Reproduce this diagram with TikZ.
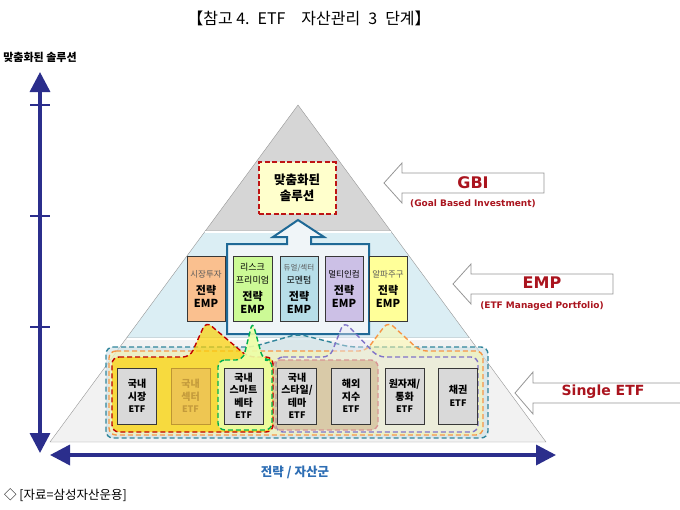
\documentclass[tikz,border=0pt]{standalone}
\usepackage{fontspec}
\setmainfont{Noto Sans CJK KR}
\newfontfamily\verdfont{DejaVu Sans}
\usepackage{xcolor}
\usepackage{tikz}
\usetikzlibrary{positioning, calc, arrows.meta}

\definecolor{axisblue}{RGB}{43,46,140}
\definecolor{labelblue}{RGB}{46,110,180}
\definecolor{topgray}{RGB}{214,214,214}
\definecolor{midcyan}{RGB}{219,238,244}
\definecolor{lowgray}{RGB}{242,242,242}
\definecolor{pyrline}{RGB}{150,150,150}
\definecolor{darkred}{RGB}{170,20,30}
\definecolor{gbifill}{RGB}{255,255,204}
\definecolor{gbidash}{RGB}{190,20,20}
\definecolor{contblue}{RGB}{31,105,150}
\definecolor{contfill}{RGB}{240,245,248}
\definecolor{boxline}{RGB}{55,55,55}
\definecolor{subgray}{RGB}{90,90,90}
\definecolor{emporange}{RGB}{250,192,143}
\definecolor{empgreen}{RGB}{204,250,150}
\definecolor{empteal}{RGB}{183,222,232}
\definecolor{emplav}{RGB}{204,192,230}
\definecolor{empyellow}{RGB}{255,255,153}
\definecolor{etfgray}{RGB}{217,217,217}
\definecolor{etfgold}{RGB}{238,198,82}
\definecolor{goldline}{RGB}{190,150,50}
\definecolor{goldtext}{RGB}{196,155,60}
\definecolor{grpteal}{RGB}{49,133,155}
\definecolor{grporange}{RGB}{247,150,70}
\definecolor{grpred}{RGB}{192,0,0}
\definecolor{grpgreen}{RGB}{0,176,80}
\definecolor{grprose}{RGB}{217,149,148}
\definecolor{grpviolet}{RGB}{128,115,200}
\definecolor{rosefill}{RGB}{205,180,135}
\definecolor{arrowgray}{RGB}{150,150,150}

\begin{document}
\begin{tikzpicture}[x=1pt, y=-1pt,
    every node/.style={inner sep=0pt},
    embox/.style={draw=boxline, line width=0.9pt, minimum width=38pt, minimum height=65pt,
      align=center, font=\bfseries\fontsize{11}{13}\selectfont},
    etfbox/.style={draw=boxline, fill=etfgray, line width=0.9pt, minimum width=39pt,
      minimum height=56pt, align=center, font=\bfseries\fontsize{10}{12.5}\selectfont},
    grp/.style={dash pattern=on 5pt off 3pt, line width=1.4pt, rounded corners=7pt},
    hollow/.style={draw=arrowgray, fill=white, line width=0.8pt},
    axis/.style={draw=axisblue, line width=3.5pt,
      {Triangle[length=20pt,width=20pt]}-{Triangle[length=20pt,width=20pt]}},
    tick/.style={draw=axisblue, line width=2.5pt},
    tag/.style={font=\verdfont\bfseries, text=darkred}]
  \useasboundingbox (0,0) rectangle (680,509);

  % title and axes
  \node[font=\fontsize{16}{18}\selectfont] (title) at (309,18)
    {【참고 4.\enspace ETF\enspace\enspace 자산관리\enspace 3\enspace 단계】};
  \node[font=\bfseries\fontsize{11}{13}\selectfont] (ylabel) at (40,57) {맞춤화된 솔루션};
  \coordinate (vtop) at (40,72);
  \coordinate (vbot) at (40,453);
  \coordinate (hleft) at (50,455);
  \coordinate (hright) at (556,455);
  \draw[axis] (vtop) -- (vbot);
  \draw[axis] (hleft) -- (hright);
  \draw[tick] (30,105) -- (50,105);
  \draw[tick] (30,216) -- (50,216);
  \draw[tick] (30,327) -- (50,327);
  \node[font=\bfseries\fontsize{12.5}{14}\selectfont, text=labelblue] (xlabel) at (295,472) {전략 / 자산군};
  \node[anchor=west, font=\fontsize{12.5}{14}\selectfont] (srcnote) at (4,495) {◇ [자료=삼성자산운용]};

  % pyramid layers
  \draw[fill=topgray, draw=pyrline] (298,105) -- (390.7,231) -- (205.3,231) -- cycle;
  \draw[fill=midcyan, draw=pyrline] (205.3,231) -- (390.7,231) -- (469.5,338) -- (126.5,338) -- cycle;
  \draw[fill=lowgray, draw=pyrline] (126.5,338) -- (469.5,338) -- (546,442) -- (50,442) -- cycle;
  \draw[white, line width=1.2pt] (205.3,232) -- (390.7,232);
  \draw[white, line width=1.2pt] (126.5,339) -- (469.5,339);

  % GBI level
  \node[draw=gbidash, fill=gbifill, line width=2pt, dash pattern=on 5pt off 2.5pt,
    minimum width=77pt, minimum height=52pt, align=center,
    font=\bfseries\fontsize{12.5}{15.5}\selectfont] (gbi) at (297,188) {맞춤화된\\솔루션};
  \draw[hollow] (384,183) -- (402,163) -- (402,173) -- (544,173) -- (544,193) -- (402,193) -- (402,203) -- cycle;
  \node[tag, font=\verdfont\bfseries\fontsize{16}{18}\selectfont] (gbitag) at (473,183) {GBI};
  \node[tag, font=\verdfont\bfseries\fontsize{9}{11}\selectfont] (gbisub) at (473,204) {(Goal Based Investment)};

  % EMP level
  \draw[line width=2pt, draw=contblue, fill=contfill] (227,244) -- (287,244) -- (287,237) -- (273,237)
    -- (298,220) -- (324,237) -- (311,237) -- (311,244) -- (369,244) -- (369,334) -- (227,334) -- cycle;
  \coordinate (contbot) at (298,334);
  \node[embox, fill=emporange] (emp1) at (206,288.5)
    {{\mdseries\fontsize{8.5}{11}\selectfont\color{subgray}시장투자}\\[4pt]전략\\EMP};
  \node[embox, fill=empgreen, minimum width=39pt] (emp2) at (252.5,288.5)
    {{\mdseries\fontsize{9}{10}\selectfont 리스크}\\{\mdseries\fontsize{9}{10}\selectfont 프리미엄}\\[4pt]전략\\EMP};
  \node[embox, fill=empteal] (emp3) at (299,288.5)
    {{\mdseries\fontsize{7.5}{9}\selectfont\color{subgray}듀얼/섹터}\\{\mdseries\fontsize{9}{10}\selectfont 모멘텀}\\[4pt]전략\\EMP};
  \node[embox, fill=emplav] (emp4) at (344,288.5)
    {{\mdseries\fontsize{8.5}{11}\selectfont 멀티인컴}\\[4pt]전략\\EMP};
  \node[embox, fill=empyellow] (emp5) at (388,288.5)
    {{\mdseries\fontsize{8.5}{11}\selectfont\color{subgray}알파주구}\\[4pt]전략\\EMP};
  \draw[hollow] (453,284) -- (471,264) -- (471,274) -- (613,274) -- (613,294) -- (471,294) -- (471,304) -- cycle;
  \node[tag, font=\verdfont\bfseries\fontsize{16}{18}\selectfont] (emptag) at (542,283) {EMP};
  \node[tag, font=\verdfont\bfseries\fontsize{9}{11}\selectfont] (empsub) at (542,306) {(ETF Managed Portfolio)};

  % ETF groups
  \draw[grp, draw=grpteal, fill=grpteal!25, fill opacity=0.6] (106,347) -- (252,347) -- (contbot) -- (350,347)
    -- (488,347) -- (488,438) -- (106,438) -- cycle;
  \draw[grp, draw=grporange, fill=yellow!35, fill opacity=0.5] (109,351) -- (366,351) -- (emp5.south) -- (420,351)
    -- (483,351) -- (483,435) -- (109,435) -- cycle;
  \draw[grp, draw=grpviolet, fill=grpviolet!15, fill opacity=0.4] (276,357) -- (330,357) -- (emp4.south) -- (378,357)
    -- (478,357) -- (478,432) -- (276,432) -- cycle;
  \draw[grp, draw=grprose, fill=rosefill, fill opacity=0.6] (273,360) -- (378,360) -- (378,430) -- (273,430) -- cycle;
  \draw[grp, draw=grpred, fill=yellow!70!orange, fill opacity=0.7] (112,357) -- (190,357) -- (emp1.south) -- (248,357)
    -- (273,357) -- (273,432) -- (112,432) -- cycle;
  \draw[grp, draw=grpgreen, fill=green!20!yellow!35, fill opacity=0.9] (218,360) -- (243,360) -- (emp2.south) -- (263,360)
    -- (272,360) -- (272,430) -- (218,430) -- cycle;

  % single ETF level
  \node[etfbox] (etf1) at (137,396) {국내\\시장\\{\fontsize{9}{11}\selectfont ETF}};
  \node[etfbox, fill=etfgold, draw=goldline, text=goldtext] (etf2) at (190.5,396) {국내\\섹터\\{\fontsize{9}{11}\selectfont ETF}};
  \node[etfbox] (etf3) at (243.5,396) {국내\\스마트\\베타\\{\fontsize{9}{11}\selectfont ETF}};
  \node[etfbox] (etf4) at (297,396) {국내\\스타일/\\테마\\{\fontsize{9}{11}\selectfont ETF}};
  \node[etfbox] (etf5) at (351,396) {해외\\지수\\{\fontsize{9}{11}\selectfont ETF}};
  \node[etfbox] (etf6) at (404.5,396) {원자재/\\통화\\{\fontsize{9}{11}\selectfont ETF}};
  \node[etfbox] (etf7) at (458,396) {채권\\{\fontsize{9}{11}\selectfont ETF}};
  \draw[hollow] (515,393) -- (533,372) -- (533,383) -- (682,383) -- (682,403) -- (533,403) -- (533,414) -- cycle;
  \node[tag, font=\verdfont\bfseries\fontsize{14}{16}\selectfont] (etftag) at (603,392) {Single ETF};
\end{tikzpicture}
\end{document}
